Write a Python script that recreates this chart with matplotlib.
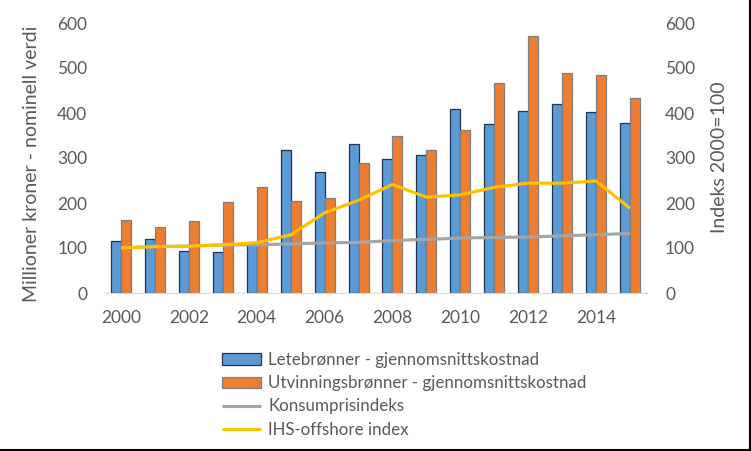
import numpy as np
import matplotlib
matplotlib.use("Agg")
import matplotlib.pyplot as plt
from matplotlib.lines import Line2D

plt.rcParams["font.family"] = ["Lato", "DejaVu Sans"]

years = list(range(2000, 2016))
lete = [116, 121, 94, 92, 110, 318, 269, 331, 298, 307, 410, 375, 404, 420, 402, 378]
utvinning = [163, 147, 161, 203, 236, 204, 211, 289, 350, 318, 362, 467, 572, 489, 484, 433]
kpi = [100, 103, 104.3, 106.9, 107.3, 109, 111.5, 112.4, 116.6, 119.1, 122, 123.5, 124.5, 127, 129.6, 132.3]
ihs = [100, 103, 104, 107, 112, 129, 178, 206, 241, 213, 218, 235, 244, 244, 249, 188]
xlabels = [str(y) if y % 2 == 0 else "" for y in years]

TXT = "#595959"
W, H = 751, 451
fig = plt.figure(figsize=(W / 100, H / 100), dpi=100)
ax = fig.add_axes([104 / W, 1 - 293 / H, (647 - 104) / W, (293 - 23) / H])
x = np.arange(len(years))
bw = 0.295
ax.bar(x - bw / 2, lete, width=bw, color="#5b9bd5", edgecolor="#1f3350", linewidth=0.9,
       label="Letebrønner - gjennomsnittskostnad", zorder=2)
ax.bar(x + bw / 2, utvinning, width=bw, color="#ed7d31", edgecolor="#7f7f7f", linewidth=0.9,
       label="Utvinningsbrønner - gjennomsnittskostnad", zorder=2)
ax.set_xlim(-0.5, len(years) - 0.5)
ax.set_ylim(0, 600)
ax.set_yticks(range(0, 601, 100))
ax.set_xticks(x)
ax.set_xticklabels(xlabels)
ax.tick_params(length=0, labelsize=12.5, colors=TXT)
ax.tick_params(axis="x", pad=12)
ax.tick_params(axis="y", pad=12)
for s in ["top", "right", "left"]:
    ax.spines[s].set_visible(False)
ax.spines["bottom"].set_color("#d9d9d9")
ax.set_ylabel("Millioner kroner - nominell verdi", fontsize=14, color=TXT)
ax.yaxis.set_label_coords(-0.118, 0.48)

ax2 = ax.twinx()
ax2.plot(x, kpi, color="#a5a5a5", lw=2.25, solid_capstyle="butt", label="Konsumprisindeks")
ax2.plot(x, ihs, color="#ffc000", lw=2.25, solid_capstyle="butt", label="IHS-offshore index")
ax2.set_ylim(0, 600)
ax2.set_yticks(range(0, 601, 100))
ax2.tick_params(length=0, labelsize=12.5, colors=TXT, pad=13)
for s in ax2.spines.values():
    s.set_visible(False)
ax2.set_ylabel("Indeks 2000=100", fontsize=14, color=TXT)
ax2.yaxis.set_label_coords(1.1175, 0.502)

h1, l1 = ax.get_legend_handles_labels()
h2, l2 = ax2.get_legend_handles_labels()
leg = fig.legend(h1 + h2, l1 + l2, loc="upper left", bbox_to_anchor=(207 / W, 1 - 337 / H),
                 frameon=False, fontsize=12.2, labelcolor=TXT, handlelength=2.3,
                 handletextpad=0.4, labelspacing=0.42)

# outer border on right and bottom edge
fig.add_artist(Line2D([1 - 1.5 / W, 1 - 1.5 / W], [0, 1], color="black", lw=1.5, transform=fig.transFigure))
fig.add_artist(Line2D([0, 1], [1.5 / H, 1.5 / H], color="black", lw=1.5, transform=fig.transFigure))

fig.savefig("out.png", dpi=100)
